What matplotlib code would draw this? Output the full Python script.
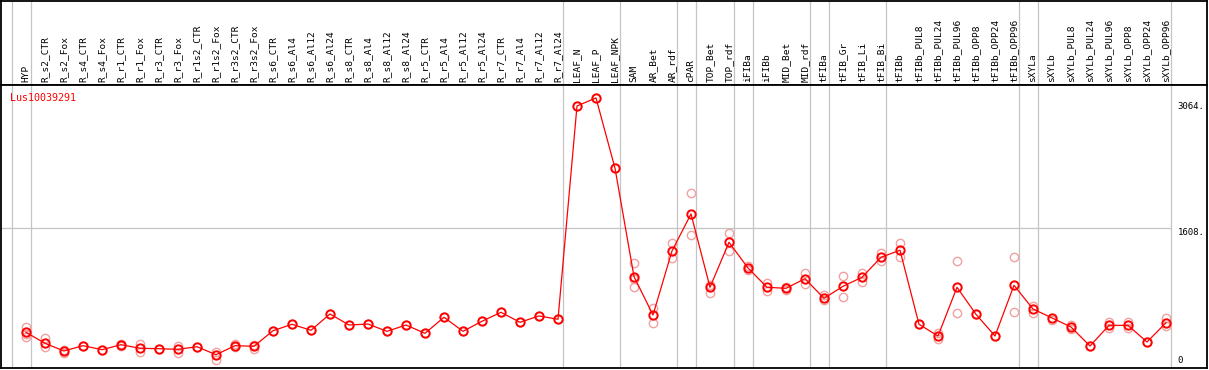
#!/usr/bin/env python3
"""Expression profile of Lus10039291 across tissues / treatments."""
import matplotlib
matplotlib.use("Agg")
import matplotlib.pyplot as plt

gene = "Lus10039291"

samples = [
    "HYP", "R_s2_CTR", "R_s2_Fox", "R_s4_CTR", "R_s4_Fox", "R_r1_CTR", "R_r1_Fox",
    "R_r3_CTR", "R_r3_Fox", "R_r1s2_CTR", "R_r1s2_Fox", "R_r3s2_CTR", "R_r3s2_Fox",
    "R_s6_CTR", "R_s6_Al4", "R_s6_Al12", "R_s6_Al24", "R_s8_CTR", "R_s8_Al4",
    "R_s8_Al12", "R_s8_Al24", "R_r5_CTR", "R_r5_Al4", "R_r5_Al12", "R_r5_Al24",
    "R_r7_CTR", "R_r7_Al4", "R_r7_Al12", "R_r7_Al24", "LEAF_N", "LEAF_P", "LEAF_NPK",
    "SAM", "AR_Bet", "AR_rdf", "cPAR", "TOP_Bet", "TOP_rdf", "iFIBa", "iFIBb",
    "MID_Bet", "MID_rdf", "tFIBa", "tFIB_Gr", "tFIB_Li", "tFIB_Bi", "tFIBb",
    "tFIBb_PUL8", "tFIBb_PUL24", "tFIBb_PUL96", "tFIBb_OPP8", "tFIBb_OPP24",
    "tFIBb_OPP96", "sXYLa", "sXYLb", "sXYLb_PUL8", "sXYLb_PUL24", "sXYLb_PUL96",
    "sXYLb_OPP8", "sXYLb_OPP24", "sXYLb_OPP96",
]

# mean expression per sample
means = [
    411, 284, 196, 257, 211, 268, 227, 222, 215, 245, 153, 257, 250,
    429, 503, 434, 622, 495, 506, 422, 495, 399, 584, 422, 538,
    641, 526, 599, 561, 3016, 3108, 2299,
    1052, 610, 1347, 1773, 929, 1447, 1151, 929,
    917, 1028, 802, 940, 1044, 1274, 1355,
    503, 368, 929, 618, 368, 952,
    679, 576, 472, 253, 491, 491, 299, 521,
]

# individual replicates (where they differ visibly from the mean)
replicates = [
    [472, 391, 357], [342, 238], [207, 169], [257], [211], [276, 253], [273, 181],
    [222], [257, 169], [245], [188, 92], [280, 245], [268, 222],
    [429], [503], [434], [622], [495], [506], [422], [495], [399], [584], [422], [538],
    [641], [526], [599], [561], [3016], [3108], [2299],
    [1205, 1021, 936], [687, 521], [1442, 1263], [2011, 1531], [955, 867],
    [1557, 1347], [1174, 1128], [982, 890],
    [936, 898], [1097, 967], [840, 783], [1059, 821], [1090, 993], [1327, 1235],
    [1435, 1274],
    [503], [406, 330], [1232, 630], [618], [368], [1274, 641],
    [714, 630], [552], [495, 445], [253], [529, 460], [529, 460], [299], [572, 483],
]

# groups end after these sample indices (-1 = left edge)
group_ends = [-1, 0, 28, 31, 34, 35, 37, 38, 41, 42, 45, 52, 53, 60]
ytick_vals = [3064, 1608]

W, H = 1209, 370
fig = plt.figure(figsize=(W / 100, H / 100), dpi=100)
xmin, xmax = -25 / 19, -25 / 19 + 1206 / 19
ymax = 3257

head = fig.add_axes([1 / W, (H - 85) / H, 1206 / W, 84 / H])
ax = fig.add_axes([1 / W, (H - 368) / H, 1206 / W, 283 / H])

mono = "DejaVu Sans Mono"
for a in (head, ax):
    a.set_xlim(xmin, xmax)
    a.set_xticks([]); a.set_yticks([])
    for s in a.spines.values():
        s.set_linewidth(1.3); s.set_color("black")
    for g in group_ends:
        a.axvline(g + 0.24, color="#c4c4c4", lw=0.9, zorder=0)

head.set_ylim(0, 1)
for i, name in enumerate(samples):
    head.text(i, 0.03, name, rotation=90, ha="center", va="bottom",
              fontsize=6.8, family=mono)

ax.set_ylim(0, ymax)
ax.plot([xmin, 60.24], [1608, 1608], color="#c4c4c4", lw=0.9, zorder=0)

for i, reps in enumerate(replicates):
    ax.plot([i] * len(reps), reps, ls="none", marker="o", ms=6, mfc="none",
            mec="#f2a0a0", mew=1.0, zorder=2)
ax.plot(range(len(samples)), means, color="red", lw=0.9, marker="o", ms=6,
        mfc="none", mec="red", mew=1.4, zorder=3)

ax.text(-0.85, 3170, gene, color="red", fontsize=7.2, family=mono, va="top", ha="left")
for v in ytick_vals:
    ax.text(60.6, v, f"{v}.", fontsize=6.5, family=mono, va="top", ha="left")
ax.text(60.6, 30, "0", fontsize=6.5, family=mono, va="bottom", ha="left")

fig.savefig("out.png", dpi=100)
